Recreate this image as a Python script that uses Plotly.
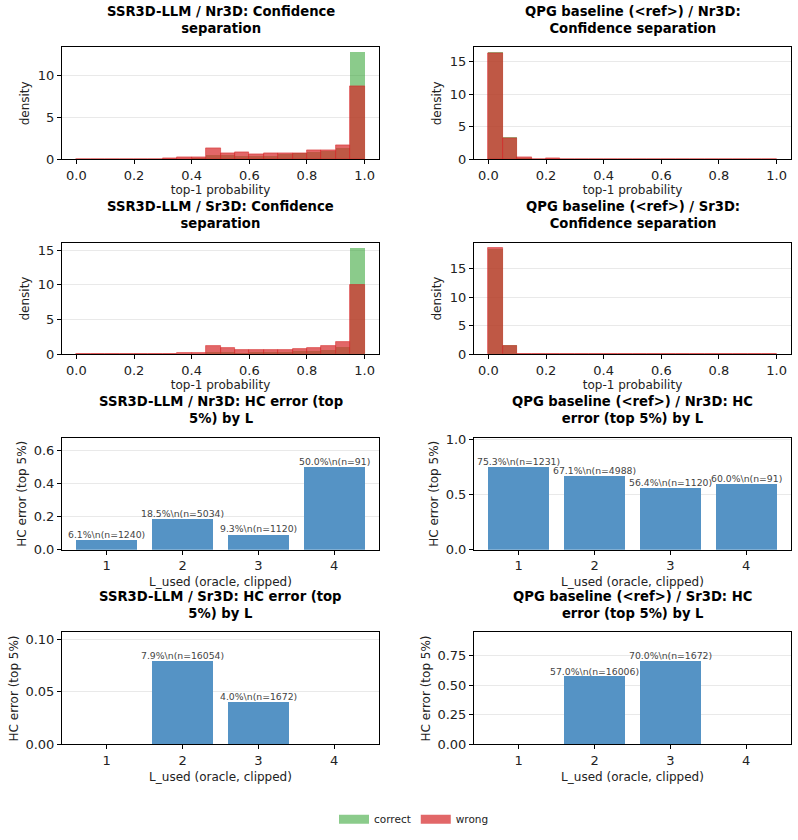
import plotly.graph_objects as go

# ---------------- data ----------------
bin_left = [0.00, 0.05, 0.10, 0.15, 0.20, 0.25, 0.30, 0.35, 0.40, 0.45,
            0.50, 0.55, 0.60, 0.65, 0.70, 0.75, 0.80, 0.85, 0.90, 0.95]
bin_width = 0.05

ssr_nr3d_correct = [0, 0, 0, 0.01, 0.01, 0.02, 0.03, 0.05, 0.08, 0.51,
                    0.51, 0.39, 0.43, 0.43, 0.55, 0.70, 0.86, 0.94, 1.37, 12.75]
ssr_nr3d_wrong = [0, 0, 0.01, 0.02, 0.02, 0.03, 0.08, 0.27, 0.27, 1.33,
                  0.75, 0.86, 0.63, 0.75, 0.75, 0.75, 1.10, 1.10, 1.69, 8.78]
qpg_nr3d_correct = [16.35, 3.37, 0.22, 0.03, 0.08, 0.02, 0.02, 0.01, 0.01, 0.01,
                    0.01, 0.01, 0.01, 0.01, 0.01, 0.01, 0.01, 0.01, 0.01, 0.01]
qpg_nr3d_wrong = [16.30, 3.22, 0.25, 0.03, 0.10, 0.02, 0.02, 0.02, 0.02, 0.02,
                  0.02, 0.02, 0.02, 0.02, 0.02, 0.02, 0.02, 0.02, 0.02, 0.02]
ssr_sr3d_correct = [0, 0, 0, 0, 0, 0.01, 0.01, 0.03, 0.05, 0.33,
                    0.33, 0.23, 0.28, 0.28, 0.33, 0.47, 0.47, 0.61, 0.99, 15.26]
ssr_sr3d_wrong = [0, 0, 0, 0, 0.01, 0.02, 0.03, 0.14, 0.14, 1.13,
                  0.85, 0.56, 0.56, 0.56, 0.56, 0.70, 0.85, 1.13, 1.69, 10.00]
qpg_sr3d_correct = [18.50, 1.55, 0.02, 0, 0, 0, 0, 0, 0, 0,
                    0, 0, 0, 0, 0, 0, 0, 0, 0, 0]
qpg_sr3d_wrong = [18.60, 1.49, 0.02, 0, 0, 0, 0, 0, 0, 0,
                  0, 0, 0, 0, 0, 0, 0, 0, 0, 0]

L_used = [1, 2, 3, 4]
ssr_nr3d_hc = [0.061, 0.185, 0.093, 0.500]
ssr_nr3d_lbl = ["6.1%\\n(n=1240)", "18.5%\\n(n=5034)", "9.3%\\n(n=1120)", "50.0%\\n(n=91)"]
qpg_nr3d_hc = [0.753, 0.671, 0.564, 0.600]
qpg_nr3d_lbl = ["75.3%\\n(n=1231)", "67.1%\\n(n=4988)", "56.4%\\n(n=1120)", "60.0%\\n(n=91)"]
ssr_sr3d_hc = [0.0, 0.079, 0.040, 0.0]
ssr_sr3d_lbl = ["", "7.9%\\n(n=16054)", "4.0%\\n(n=1672)", ""]
qpg_sr3d_hc = [0.0, 0.570, 0.700, 0.0]
qpg_sr3d_lbl = ["", "57.0%\\n(n=16006)", "70.0%\\n(n=1672)", ""]

titles = [
    ("SSR3D-LLM / Nr3D: Confidence", "separation"),
    ("QPG baseline (&lt;ref&gt;) / Nr3D:", "Confidence separation"),
    ("SSR3D-LLM / Sr3D: Confidence", "separation"),
    ("QPG baseline (&lt;ref&gt;) / Sr3D:", "Confidence separation"),
    ("SSR3D-LLM / Nr3D: HC error (top", "5%) by L"),
    ("QPG baseline (&lt;ref&gt;) / Nr3D: HC", "error (top 5%) by L"),
    ("SSR3D-LLM / Sr3D: HC error (top", "5%) by L"),
    ("QPG baseline (&lt;ref&gt;) / Sr3D: HC", "error (top 5%) by L"),
]

# ---------------- style ----------------
W, H = 798, 840
FONT = "DejaVu Sans"
GREEN = "rgba(44,160,44,0.55)"
RED = "rgba(214,39,40,0.70)"
BLUE = "rgb(85,147,197)"

col_x = [(62, 379), (474, 791)]
row_y = [(42, 156), (241, 354), (439, 553), (637, 751)]


def px_x(p):
    return p / W


def px_y(p):
    return 1 - p / H


fig = go.Figure()
annotations = []

hist_sets = [
    (ssr_nr3d_correct, ssr_nr3d_wrong),
    (qpg_nr3d_correct, qpg_nr3d_wrong),
    (ssr_sr3d_correct, ssr_sr3d_wrong),
    (qpg_sr3d_correct, qpg_sr3d_wrong),
]
bar_sets = [
    (ssr_nr3d_hc, ssr_nr3d_lbl, ".1f", 0.2),
    (qpg_nr3d_hc, qpg_nr3d_lbl, ".1f", 0.5),
    (ssr_sr3d_hc, ssr_sr3d_lbl, ".2f", 0.05),
    (qpg_sr3d_hc, qpg_sr3d_lbl, ".2f", 0.25),
]

bin_centers = [b + bin_width / 2 for b in bin_left]

for i in range(8):
    r, c = divmod(i, 2)
    idx = i + 1
    xa = "x" if idx == 1 else f"x{idx}"
    ya = "y" if idx == 1 else f"y{idx}"
    xl = "xaxis" if idx == 1 else f"xaxis{idx}"
    yl = "yaxis" if idx == 1 else f"yaxis{idx}"
    x0, x1 = col_x[c]
    top, bot = row_y[r]

    common_ax = dict(
        showline=True, linecolor="black", linewidth=1, mirror=True,
        ticks="outside", ticklen=4, tickwidth=1, tickcolor="black",
        tickfont=dict(family=FONT, size=13, color="#222"),
        zeroline=False,
    )

    if i < 4:
        corr, wrong = hist_sets[i]
        fig.add_trace(go.Bar(
            x=bin_centers, y=corr, width=bin_width, xaxis=xa, yaxis=ya,
            marker=dict(color=GREEN, line=dict(width=0)),
            showlegend=False, name="correct"))
        fig.add_trace(go.Bar(
            x=bin_centers, y=wrong, width=bin_width, xaxis=xa, yaxis=ya,
            marker=dict(color=RED, line=dict(width=0.8, color=RED)),
            showlegend=False, name="wrong"))
        ymax = max(max(corr), max(wrong)) * 1.05
        fig.layout[xl] = dict(
            domain=[px_x(x0), px_x(x1)], anchor=ya, range=[-0.05, 1.05],
            tickmode="array", tickvals=[0, 0.2, 0.4, 0.6, 0.8, 1.0],
            tickformat=".1f", showgrid=False,
            title=dict(text="top-1 probability", standoff=3,
                       font=dict(family=FONT, size=12, color="#222")),
            **common_ax)
        fig.layout[yl] = dict(
            domain=[px_y(bot), px_y(top)], anchor=xa, range=[0, ymax],
            dtick=5, tickformat="d", showgrid=True, gridcolor="#e9e9e9",
            gridwidth=1,
            title=dict(text="density", standoff=5,
                       font=dict(family=FONT, size=12, color="#222")),
            **common_ax)
    else:
        vals, lbls, fmt, dt = bar_sets[i - 4]
        fig.add_trace(go.Bar(
            x=L_used, y=vals, width=0.8, xaxis=xa, yaxis=ya,
            marker=dict(color=BLUE, line=dict(width=0)),
            showlegend=False, name="HC error"))
        for xv, yv, t in zip(L_used, vals, lbls):
            if t:
                annotations.append(dict(
                    x=xv, y=yv, xref=xa, yref=ya, text=t, showarrow=False,
                    yanchor="bottom", xanchor="center", yshift=-2,
                    font=dict(family=FONT, size=9.3, color="#444")))
        fig.layout[xl] = dict(
            domain=[px_x(x0), px_x(x1)], anchor=ya, range=[0.41, 4.59],
            tickmode="array", tickvals=L_used, showgrid=False,
            title=dict(text="L_used (oracle, clipped)", standoff=5,
                       font=dict(family=FONT, size=12, color="#222")),
            **common_ax)
        fig.layout[yl] = dict(
            domain=[px_y(bot), px_y(top)], anchor=xa,
            range=[0, max(vals) * 1.35],
            dtick=dt, tickformat=fmt, showgrid=True, gridcolor="#e9e9e9",
            gridwidth=1,
            title=dict(text="HC error (top 5%)", standoff=4,
                       font=dict(family=FONT, size=12, color="#222")),
            **common_ax)

    # title (two lines in one text)
    l1, l2 = titles[i]
    cx = px_x((x0 + x1) / 2)
    annotations.append(dict(
        x=cx, y=px_y(top - 28), xref="paper", yref="paper",
        text=f"<b>{l1}</b><br><b>{l2}</b>",
        showarrow=False, xanchor="center", yanchor="middle",
        font=dict(family=FONT, size=13.2, color="black")))

# legend entries
fig.add_trace(go.Scatter(x=[None], y=[None], mode="lines", name="correct",
                         line=dict(color=GREEN, width=9), showlegend=True))
fig.add_trace(go.Scatter(x=[None], y=[None], mode="lines", name="wrong",
                         line=dict(color=RED, width=9), showlegend=True))

fig.update_layout(
    width=W, height=H, margin=dict(l=0, r=0, t=0, b=0),
    paper_bgcolor="white", plot_bgcolor="white",
    barmode="overlay", bargap=0,
    font=dict(family=FONT, size=12, color="#222"),
    annotations=annotations,
    legend=dict(orientation="h", x=px_x(334), y=px_y(827), xanchor="left",
                yanchor="middle", itemwidth=30, bgcolor="rgba(0,0,0,0)",
                font=dict(family=FONT, size=10.5, color="#222"),
                tracegroupgap=0),
    showlegend=True,
)

fig.write_html("out.html")
